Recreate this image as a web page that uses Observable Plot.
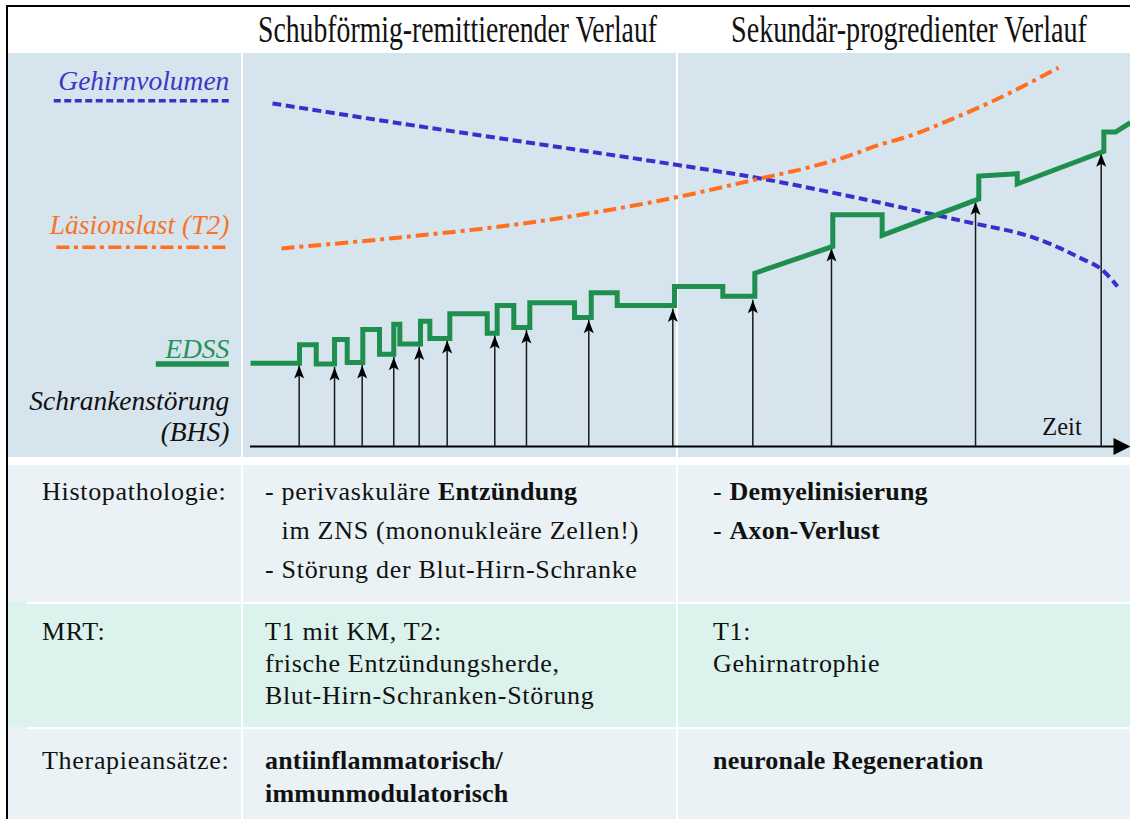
<!DOCTYPE html>
<html>
<head>
<meta charset="utf-8">
<script src="https://cdn.jsdelivr.net/npm/d3@7"></script>
<script src="https://cdn.jsdelivr.net/npm/@observablehq/plot@0.6"></script>
<style>
  body { margin: 0; background: #fff; }
  #page { position: relative; width: 1130px; height: 819px; overflow: hidden; background: #fff;
          font-family: "Liberation Serif", "DejaVu Serif", serif; color: #111; }
  .line { position: absolute; white-space: pre; font-size: 26px; letter-spacing: 0.7px;
          font-family: "Liberation Serif", "DejaVu Serif", serif; }
  .hdr { position: absolute; white-space: pre; font-size: 37px; line-height: 37px; transform-origin: 0 0;
         font-family: "Liberation Serif", "DejaVu Serif", serif; }
</style>
</head>
<body>
<div id="page"></div>
<script>
// ---------------- data ----------------
const phases = ["Schubförmig-remittierender Verlauf", "Sekundär-progredienter Verlauf"];

// EDSS (Zeit in arbitrary units 0..100, value in arbitrary units 0..100)
const edssT = [0, 5.57, 5.57, 7.47, 7.47, 9.55, 9.55, 10.99, 10.99, 12.76, 12.76, 14.66, 14.66, 16.28, 16.28,
  16.97, 16.97, 19.32, 19.32, 20.38, 20.38, 22.65, 22.65, 26.9, 26.9, 28.03, 28.03, 29.92, 29.92, 31.74, 31.74,
  36.82, 36.82, 38.72, 38.72, 41.67, 41.67, 48.18, 48.18, 53.67, 53.67, 57.31, 57.31, 66.17, 66.17, 71.78, 71.78,
  82.76, 82.76, 87.13, 87.13, 96.97, 96.97, 98.3, 100];
const edssV = [21.2, 21.2, 25.9, 25.9, 21.0, 21.0, 27.2, 27.2, 21.4, 21.4, 29.8, 29.8, 23.5, 23.5, 31.1,
  31.1, 26.1, 26.1, 31.9, 31.9, 27.5, 27.5, 33.8, 33.8, 28.8, 28.8, 35.9, 35.9, 30.3, 30.3, 36.6,
  36.6, 32.8, 32.8, 39.1, 39.1, 35.9, 35.9, 40.7, 40.7, 38.2, 38.2, 44.1, 50.9, 59.0, 59.0, 53.7,
  63.0, 68.8, 69.4, 66.8, 75.1, 80.0, 80.0, 82.4];

// Schrankenstörung (BHS) events: time and arrow tip
const bhsT   = [5.53, 9.55, 12.69, 16.28, 19.17, 22.35, 27.76, 31.36, 38.44, 47.99, 57.08, 66.02, 82.39, 96.67];
const bhsTip = [20.6, 20.1, 20.6, 22.7, 25.3, 27.0, 28.2, 29.5, 32.1, 35.0, 37.2, 50.4, 62.2, 74.5];

// Gehirnvolumen
const brainT = [2.5, 17.05, 46.59, 57.95, 69.32, 80.68, 88.26, 92.05, 93.98, 96.59, 98.52];
const brainV = [87.3, 82.2, 72.3, 68.2, 63.1, 57.5, 53.7, 50.4, 48.3, 45.3, 40.7];

// Läsionslast (T2)
const lesionT = [3.52, 17.05, 31.82, 46.59, 57.95, 62.84, 67.39, 71.25, 75.0, 78.75, 85.23, 91.82];
const lesionV = [50.4, 53.2, 57.0, 62.6, 68.2, 70.7, 73.5, 76.6, 79.1, 82.4, 88.8, 96.4];

const legendLabels = ["Gehirnvolumen", "Läsionslast (T2)", "EDSS", "Schrankenstörung", "(BHS)"];
const axisLabel = "Zeit";

const rowLabels = ["Histopathologie:", "MRT:", "Therapieansätze:"];
const rrCells = [
  ["- perivaskuläre **Entzündung**", "  im ZNS (mononukleäre Zellen!)", "- Störung der Blut-Hirn-Schranke"],
  ["T1 mit KM, T2:", "frische Entzündungsherde,", "Blut-Hirn-Schranken-Störung"],
  ["**antiinflammatorisch/**", "**immunmodulatorisch**"]
];
const spCells = [
  ["- **Demyelinisierung**", "- **Axon-Verlust**"],
  ["T1:", "Gehirnatrophie"],
  ["**neuronale Regeneration**"]
];

// ---------------- styles / layout ----------------
const SERIF = '"Liberation Serif", "DejaVu Serif", serif';
const BLUE = "#3b2fcc", ORANGE = "#ff6f1f", GREEN = "#1e8f4e";
const BLUE_T = "#3d36c6", ORANGE_T = "#f7742a", GREEN_T = "#26935a";

const page = document.getElementById("page");
function box(left, top, width, height, bg) {
  const d = document.createElement("div");
  Object.assign(d.style, {position: "absolute", left: left + "px", top: top + "px",
    width: width + "px", height: height + "px", background: bg});
  page.appendChild(d);
  return d;
}

// backgrounds and frame
box(8, 53, 1122, 404, "#d6e4ee");
box(8, 465, 1122, 137, "#eaf2f5");
box(8, 602, 1122, 125, "#dcf2ed");
box(8, 727, 1122, 92, "#eaf2f5");
box(27, 602, 1103, 1.5, "#fff");
box(27, 727, 1103, 1.5, "#fff");
box(241, 53, 2, 766, "#fff");
box(676, 53, 1.5, 766, "#fff");
box(6, 5, 1124, 1.6, "#000");
box(6, 5, 1.6, 814, "#000");

// header (phase titles)
const hdrPos = [[258, 399], [731, 356]];
phases.forEach((p, i) => {
  const d = document.createElement("div");
  d.className = "hdr";
  d.textContent = p;
  d.style.left = hdrPos[i][0] + "px";
  d.style.top = "10.7px";
  page.appendChild(d);
  const w = d.getBoundingClientRect().width;
  d.style.transform = `scaleX(${hdrPos[i][1] / w})`;
});

// chart
const edss = edssT.map((t, i) => ({t, v: edssV[i]}));
const bhs = bhsT.map((t, i) => ({t, tip: bhsTip[i]}));
const brain = brainT.map((t, i) => ({t, v: brainV[i]}));
const lesion = lesionT.map((t, i) => ({t, v: lesionV[i]}));

const stealthUp = {draw(ctx) { ctx.moveTo(0, 0); ctx.lineTo(5, 13); ctx.lineTo(0, 10); ctx.lineTo(-5, 13); ctx.closePath(); }};
const headRight = {draw(ctx) { ctx.moveTo(0, 0); ctx.lineTo(-17, -8.5); ctx.lineTo(-17, 8.5); ctx.closePath(); }};

const legend = [
  {label: legendLabels[0], color: BLUE_T, ty: 90.6},
  {label: legendLabels[1], color: ORANGE_T, ty: 54.1},
  {label: legendLabels[2], color: GREEN_T, ty: 22.6},
  {label: legendLabels[3], color: "#111", ty: 9.2},
  {label: legendLabels[4], color: "#111", ty: 1.5}
];
const LX = -2.4;

const chart = Plot.plot({
  width: 1122, height: 404,
  marginLeft: 0, marginRight: 0, marginTop: 0, marginBottom: 11,
  x: {domain: [-27.5, 100], axis: null},
  y: {domain: [0, 100], axis: null},
  style: {background: "transparent", overflow: "visible", fontFamily: SERIF},
  marks: [
    Plot.ruleY([0], {x1: 0, x2: 98.5, stroke: "#000", strokeWidth: 2}),
    Plot.dot([100], {x: d => d, y: 0, symbol: headRight, fill: "#000", stroke: "none"}),
    Plot.ruleX(bhs, {x: "t", y1: 0, y2: "tip", stroke: "#1a1a1a", strokeWidth: 1.5}),
    Plot.dot(bhs, {x: "t", y: "tip", symbol: stealthUp, fill: "#000", stroke: "none"}),
    Plot.line(brain, {x: "t", y: "v", stroke: BLUE, strokeWidth: 4, strokeDasharray: "9,4.5",
      strokeLinecap: "butt", curve: "catmull-rom"}),
    Plot.line(lesion, {x: "t", y: "v", stroke: ORANGE, strokeWidth: 4, strokeDasharray: "13,5,4,5",
      strokeLinecap: "butt", curve: "catmull-rom"}),
    Plot.line(edss, {x: "t", y: "v", stroke: GREEN, strokeWidth: 5, strokeLinejoin: "miter",
      strokeMiterlimit: 4, strokeLinecap: "butt", curve: "linear"}),
    // legend swatches
    Plot.ruleY([88.0], {x1: -22.3, x2: LX, stroke: BLUE, strokeWidth: 3.5, strokeDasharray: "7,3.5"}),
    Plot.ruleY([50.7], {x1: -22.0, x2: LX, stroke: ORANGE, strokeWidth: 3.5, strokeDasharray: "13,4.5,4,4.5"}),
    Plot.ruleY([21.0], {x1: -10.7, x2: LX, stroke: GREEN, strokeWidth: 5.5}),
    ...legend.map(d => Plot.text([d], {x: LX, y: "ty", text: "label", fill: d.color, textAnchor: "end",
      lineAnchor: "bottom", fontStyle: "italic", fontSize: 27.5, fontFamily: SERIF})),
    Plot.text([axisLabel], {x: 89.97, y: 3.0, text: d => d, textAnchor: "start", lineAnchor: "bottom",
      fontSize: 24.5, fill: "#111", fontFamily: SERIF})
  ]
});
Object.assign(chart.style, {position: "absolute", left: "8px", top: "53px"});
page.appendChild(chart);

// table below the chart
const colX = [42, 265, 713];
const rowTop = [471.7, 616.2, 743.7];
const rowLine = [39, 32, 33];
function addLine(s, left, top, lh) {
  const d = document.createElement("div");
  d.className = "line";
  Object.assign(d.style, {left: left + "px", top: top + "px", height: lh + "px", lineHeight: lh + "px"});
  if (s.startsWith("  ")) {
    const h = document.createElement("span");
    h.textContent = "- ";
    h.style.visibility = "hidden";
    d.appendChild(h);
    s = s.slice(2);
  }
  s.split("**").forEach((p, i) => {
    if (!p) return;
    const sp = document.createElement("span");
    sp.textContent = p;
    if (i % 2) { sp.style.fontWeight = "bold"; sp.style.letterSpacing = "0.2px"; }
    d.appendChild(sp);
  });
  page.appendChild(d);
}
rowLabels.forEach((lab, r) => {
  addLine(lab, colX[0], rowTop[r], rowLine[r]);
  rrCells[r].forEach((s, k) => addLine(s, colX[1], rowTop[r] + k * rowLine[r], rowLine[r]));
  spCells[r].forEach((s, k) => addLine(s, colX[2], rowTop[r] + k * rowLine[r], rowLine[r]));
});
</script>
</body>
</html>
